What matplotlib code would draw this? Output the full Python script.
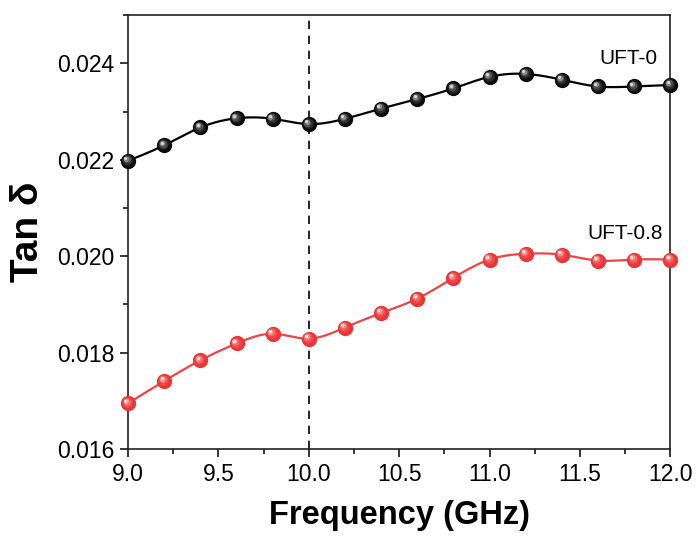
import numpy as np
import matplotlib.pyplot as plt
from matplotlib.transforms import ScaledTranslation
from matplotlib.ticker import MultipleLocator, FormatStrFormatter

plt.rcParams['font.family'] = ['Liberation Sans', 'DejaVu Sans']

freq = [9.0, 9.2, 9.4, 9.6, 9.8, 10.0, 10.2, 10.4, 10.6, 10.8,
        11.0, 11.2, 11.4, 11.6, 11.8, 12.0]
tan_uft0 = [0.02198, 0.02230, 0.02267, 0.02286, 0.02285, 0.02274, 0.02285, 0.02306,
            0.02326, 0.02348, 0.02372, 0.02378, 0.02366, 0.02352, 0.02352, 0.02355]
tan_uft08 = [0.01695, 0.01741, 0.01784, 0.01819, 0.01839, 0.01829, 0.01852, 0.01882,
             0.01912, 0.01955, 0.01993, 0.02005, 0.02003, 0.01991, 0.01993, 0.01993]


def natural_spline(x, y, n=400):
    # plain natural cubic spline, only for the smooth connecting line
    x = np.asarray(x, float)
    y = np.asarray(y, float)
    k = len(x)
    h = np.diff(x)
    A = np.zeros((k, k))
    b = np.zeros(k)
    A[0, 0] = A[-1, -1] = 1
    for i in range(1, k - 1):
        A[i, i - 1] = h[i - 1]
        A[i, i] = 2 * (h[i - 1] + h[i])
        A[i, i + 1] = h[i]
        b[i] = 6 * ((y[i + 1] - y[i]) / h[i] - (y[i] - y[i - 1]) / h[i - 1])
    M = np.linalg.solve(A, b)
    xs = np.linspace(x[0], x[-1], n)
    idx = np.clip(np.searchsorted(x, xs) - 1, 0, k - 2)
    x0, x1 = x[idx], x[idx + 1]
    hh = x1 - x0
    t0, t1 = x1 - xs, xs - x0
    ys = (M[idx] * t0 ** 3 + M[idx + 1] * t1 ** 3) / (6 * hh) \
        + (y[idx] / hh - M[idx] * hh / 6) * t0 \
        + (y[idx + 1] / hh - M[idx + 1] * hh / 6) * t1
    return xs, ys


def sphere_markers(ax, x, y, base, shades, ms=10):
    # fake shaded balls: base disc then smaller lighter discs shifted up-left
    ax.plot(x, y, 'o', ms=ms, color=base, mec=base, clip_on=False, zorder=4)
    sizes = [ms * 0.75, ms * 0.55, ms * 0.38, ms * 0.22]
    for s, c in zip(sizes, shades):
        off = (ms - s) / 2 * 0.5 / 72
        tr = ax.transData + ScaledTranslation(-off, off, ax.figure.dpi_scale_trans)
        ax.plot(x, y, 'o', ms=s, color=c, mec='none', clip_on=False, zorder=5,
                transform=tr)


fig = plt.figure(figsize=(6.96, 5.4), dpi=100)
ax = fig.add_axes([0.184, 0.1685, 0.779, 0.8035])

xs, ys = natural_spline(freq, tan_uft0)
ax.plot(xs, ys, color='black', lw=1.6, zorder=3)
xs, ys = natural_spline(freq, tan_uft08)
ax.plot(xs, ys, color='#f04444', lw=1.6, zorder=3)

sphere_markers(ax, freq, tan_uft0, '#0c0c0c', ['#2a2a2a', '#505050', '#8a8a8a', '#d8d8d8'])
sphere_markers(ax, freq, tan_uft08, '#e83636', ['#f04646', '#f56868', '#f99a9a', '#ffe4e4'])

ax.axvline(10.0, color='black', ls=(0, (5, 4)), lw=1.2, zorder=2)

ax.text(11.93, 0.02410, 'UFT-0', fontsize=15, ha='right', va='center')
ax.text(11.96, 0.02048, 'UFT-0.8', fontsize=15, ha='right', va='center')

ax.set_xlim(9.0, 12.0)
ax.set_ylim(0.016, 0.025)
ax.xaxis.set_major_locator(MultipleLocator(0.5))
ax.xaxis.set_minor_locator(MultipleLocator(0.25))
ax.yaxis.set_major_locator(MultipleLocator(0.002))
ax.yaxis.set_minor_locator(MultipleLocator(0.001))
ax.xaxis.set_major_formatter(FormatStrFormatter('%.1f'))
ax.yaxis.set_major_formatter(FormatStrFormatter('%.3f'))
ax.tick_params(which='major', direction='out', length=6, width=1.1, labelsize=16.5, pad=4)
ax.tick_params(which='minor', direction='out', length=3.5, width=1.1)
for sp in ax.spines.values():
    sp.set_linewidth(1.2)
    sp.set_color('#222222')

ax.set_xlabel('Frequency (GHz)', fontsize=23.5, fontweight='bold', labelpad=10)
ax.set_ylabel('Tan δ', fontsize=28, fontweight='bold', labelpad=8)

fig.savefig('out.png', dpi=100)
